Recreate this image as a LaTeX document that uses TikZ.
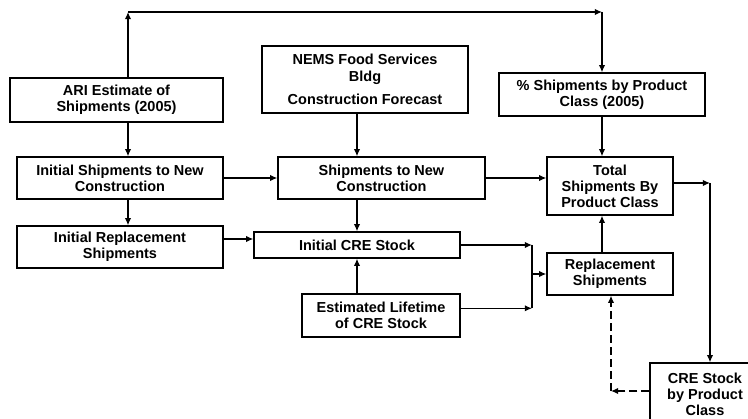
\documentclass[tikz,border=0pt]{standalone}
\usepackage{fontspec}
\setmainfont{Liberation Sans}
\usetikzlibrary{arrows.meta}
\begin{document}
\begin{tikzpicture}[>={Latex[length=1.8mm,width=1.6mm]},x=0.025cm,y=-0.025cm,line width=0.9pt,
    blocco/.style={draw,line width=1pt,inner sep=0pt,align=center,
        font=\bfseries\fontsize{10.3}{11.4}\selectfont},
    tratt/.style={dashed,dash pattern=on 0.2cm off 0.1cm}]
        \clip (0,0) rectangle (748,419);
        % blocchi in alto
        \node[blocco,minimum width={213*0.025cm},minimum height={44*0.025cm}] (ari) at (116.5,100) {ARI Estimate of\\Shipments (2005)};
        \node[blocco,minimum width={206*0.025cm},minimum height={67*0.025cm}] (nems) at (365,79.5) {NEMS Food Services\\[1pt]Bldg\\[5pt]Construction Forecast};
        \node[blocco,minimum width={206*0.025cm},minimum height={43*0.025cm}] (pct) at (602,94.5) {\% Shipments by Product\\Class (2005)};
        % riga centrale
        \node[blocco,minimum width={206*0.025cm},minimum height={42*0.025cm}] (ini) at (120,178) {Initial Shipments to New\\Construction};
        \node[blocco,minimum width={207*0.025cm},minimum height={42*0.025cm}] (snc) at (381.5,178) {Shipments to New\\Construction};
        \node[blocco,minimum width={126*0.025cm},minimum height={58*0.025cm}] (tot) at (610,186) {Total\\Shipments By\\Product Class};
        % blocchi in basso
        \node[blocco,minimum width={206*0.025cm},minimum height={42*0.025cm}] (irs) at (120,247) {Initial Replacement\\Shipments};
        \node[blocco,minimum width={206*0.025cm},minimum height={26*0.025cm}] (ics) at (357,245) {Initial CRE Stock};
        \node[blocco,minimum width={158*0.025cm},minimum height={43*0.025cm}] (elt) at (381,315.5) {Estimated Lifetime\\of CRE Stock};
        \node[blocco,minimum width={126*0.025cm},minimum height={42*0.025cm}] (rep) at (610,274) {Replacement\\Shipments};
        \node[blocco,minimum width={110*0.025cm},minimum height={62*0.025cm}] (crs) at (705,394) {CRE Stock\\by Product\\Class};
        % punti di snodo
        \coordinate (tl) at (128,12);
        \coordinate (tr) at (602,12);
        \coordinate (jm) at (532,274);
        \coordinate (rc) at (710,183);
        \coordinate (dc) at (611,391);
        % anello superiore
        \draw[->] (ari.north -| tl) -- (tl);
        \draw[->] (tl) -- (tr);
        \draw[->] (tr) -- (pct.north);
        % colonna sinistra
        \draw[->] (ari.south -| tl) -- (ini.north -| tl);
        \draw[->] (ini.south -| tl) -- (irs.north -| tl);
        \draw[->] (ini.east) -- (snc.west);
        \draw[->] ([yshift=0.15cm]irs.east |- ics.west) -- ([yshift=0.15cm]ics.west);
        % colonna centrale
        \draw[->] (nems.south -| ics.north) -- (snc.north -| ics.north);
        \draw[->] (snc.south -| ics.north) -- (ics.north);
        \draw[->] (elt.north -| ics.south) -- (ics.south);
        \draw[->] (snc.east) -- (tot.west |- snc.east);
        % confluenza verso le sostituzioni
        \draw[->] (ics.east) -- (ics.east -| jm);
        \draw[->] ([yshift=0.18cm]elt.east) -- ([yshift=0.18cm]elt.east -| jm);
        \draw (ics.east -| jm) -- ([yshift=0.18cm]elt.east -| jm);
        \draw[->] (jm) -- (rep.west |- jm);
        % colonna destra
        \draw[->] (pct.south) -- (tot.north -| pct.south);
        \draw[->] (rep.north -| pct.south) -- (tot.south -| pct.south);
        \draw[->] (tot.east |- rc) -- (rc);
        \draw[->] (rc) -- (crs.north -| rc);
        % ritorno tratteggiato
        \draw[->,tratt] (crs.west |- dc) -- (dc);
        \draw[->,tratt] (dc) -- (rep.south -| dc);
\end{tikzpicture}
\end{document}
